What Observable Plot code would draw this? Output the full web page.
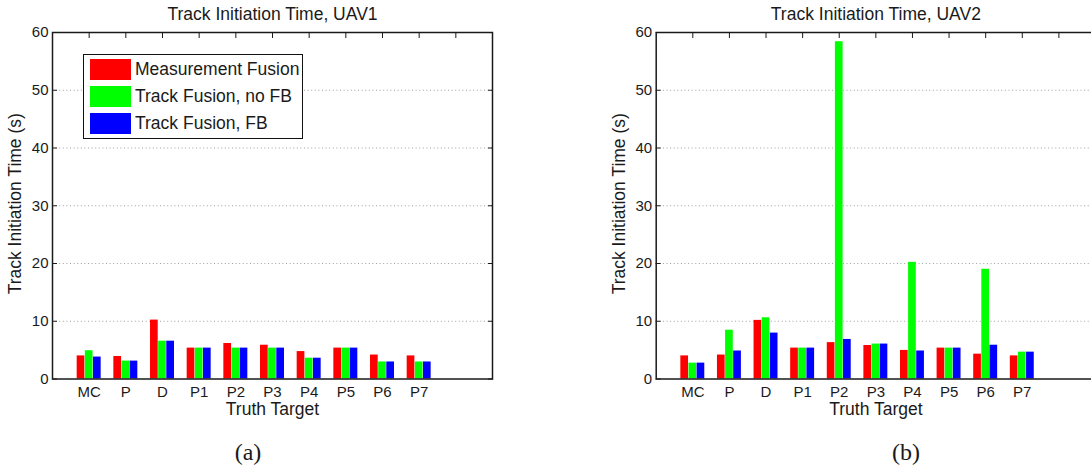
<!DOCTYPE html>
<html>
<head>
<meta charset="utf-8">
<script src="https://cdn.jsdelivr.net/npm/d3@7"></script>
<script src="https://cdn.jsdelivr.net/npm/@observablehq/plot@0.6"></script>
<style>
  html, body { margin: 0; padding: 0; background: #fff; overflow: hidden; }
  #page { position: relative; width: 1091px; height: 467px; overflow: hidden;
          font-family: "Liberation Sans", Arial, Helvetica, sans-serif; color: #1a1a1a; }
  .panel { position: absolute; top: 0; }
  .legend { position: absolute; left: 83px; top: 54px; width: 220px; height: 85px;
            border: 1.4px solid #111; background: #fff; box-sizing: border-box; }
  .legend .row { position: absolute; left: 6px; height: 21px; display: flex; align-items: center; }
  .legend .sw { width: 41px; height: 21px; margin-right: 4px; }
  .legend .name { font-size: 17.5px; line-height: 21px; white-space: nowrap; }
  .sub { position: absolute; top: 439px; font-family: "Liberation Serif", "DejaVu Serif", serif;
         font-size: 24px; line-height: 26px; transform: translateX(-50%); }
</style>
</head>
<body>
<div id="page"></div>
<script>
// Categories (truth targets) and the three fusion schemes
const categories = ["MC", "P", "D", "P1", "P2", "P3", "P4", "P5", "P6", "P7"];
const series = ["Measurement Fusion", "Track Fusion, no FB", "Track Fusion, FB"];
const seriesColors = ["#ff0000", "#00ff00", "#0000ff"];
const yTicks = [0, 10, 20, 30, 40, 50, 60];

// Track initiation time (s), UAV1
const uav1MeasFusion = [4.0, 3.9, 10.2, 5.35, 6.15, 5.85, 4.75, 5.35, 4.15, 4.0];
const uav1TrackNoFb  = [4.9, 3.1, 6.55, 5.35, 5.35, 5.35, 3.6, 5.35, 2.95, 2.95];
const uav1TrackFb    = [3.8, 3.1, 6.55, 5.35, 5.35, 5.35, 3.6, 5.35, 2.95, 2.95];

// Track initiation time (s), UAV2
const uav2MeasFusion = [4.0, 4.15, 10.15, 5.35, 6.3, 5.8, 4.95, 5.35, 4.3, 4.0];
const uav2TrackNoFb  = [2.75, 8.45, 10.6, 5.35, 58.4, 6.05, 20.2, 5.35, 19.0, 4.65];
const uav2TrackFb    = [2.75, 4.85, 7.95, 5.35, 6.85, 6.05, 4.85, 5.35, 5.85, 4.65];

const yLabel = "Track Initiation Time (s)";
const xLabel = "Truth Target";

// grouped bar layout: bar offsets within a group (in category units)
const slotOffset = [-0.222, 0, 0.222];
const barHalf = 0.105;

function makeChart(title, columns, {width, marginLeft, marginRight}) {
  const rows = [];
  categories.forEach((c, i) =>
    series.forEach((s, j) => rows.push({category: c, index: i + 1, slot: j, series: s, value: columns[j][i]}))
  );
  return Plot.plot({
    width,
    height: 420,
    marginLeft,
    marginRight,
    marginTop: 32,
    marginBottom: 41.5,
    style: {fontFamily: "'Liberation Sans', Arial, Helvetica, sans-serif", color: "#1a1a1a", background: "transparent", overflow: "visible"},
    x: {type: "linear", domain: [0, 12]},
    y: {domain: [0, 60]},
    color: {domain: series, range: seriesColors},
    marks: [
      Plot.ruleY(yTicks.filter(t => t > 0 && t < 60), {stroke: "#a0a0a0", strokeDasharray: "1,2.6"}),
      Plot.rectY(rows, {
        x1: d => d.index + slotOffset[d.slot] - barHalf,
        x2: d => d.index + slotOffset[d.slot] + barHalf,
        y1: 0,
        y2: "value",
        fill: "series"
      }),
      Plot.frame({stroke: "#1a1a1a", strokeWidth: 1.5}),
      Plot.axisY({anchor: "left", ticks: yTicks, tickSize: -5, tickPadding: 9, fontSize: 15, label: null}),
      Plot.axisY({anchor: "right", ticks: yTicks, tickSize: -5, tickFormat: () => "", label: null}),
      Plot.axisX({anchor: "top", ticks: d3.range(1, 12), tickSize: -5, tickFormat: () => "", label: null}),
      Plot.axisX({anchor: "bottom", ticks: d3.range(1, 11), tickSize: 0, tickPadding: 7, fontSize: 15,
                  tickFormat: i => categories[i - 1], label: null}),
      Plot.text([title], {text: d => d, frameAnchor: "top", textAnchor: "middle", lineAnchor: "middle",
                          dy: -18.5, fontSize: 17.5}),
      Plot.text([xLabel], {text: d => d, frameAnchor: "bottom", textAnchor: "middle", lineAnchor: "middle",
                           dy: 30.5, fontSize: 17.5}),
      Plot.text([yLabel], {text: d => d, frameAnchor: "left", textAnchor: "middle", lineAnchor: "middle",
                           rotate: -90, dx: -37, dy: -2, fontSize: 17.5})
    ]
  });
}

const page = document.getElementById("page");

const left = makeChart("Track Initiation Time, UAV1", [uav1MeasFusion, uav1TrackNoFb, uav1TrackFb],
  {width: 545, marginLeft: 52, marginRight: 53});
left.classList.add("panel");
left.style.left = "0px";
page.appendChild(left);

const right = makeChart("Track Initiation Time, UAV2", [uav2MeasFusion, uav2TrackNoFb, uav2TrackFb],
  {width: 549, marginLeft: 109.7, marginRight: 0});
right.classList.add("panel");
right.style.left = "546px";
page.appendChild(right);

// boxed legend in the UAV1 panel
const legend = document.createElement("div");
legend.className = "legend";
series.forEach((s, j) => {
  const row = document.createElement("div");
  row.className = "row";
  row.style.top = (4 + 27 * j) + "px";
  const sw = document.createElement("div");
  sw.className = "sw";
  sw.style.background = seriesColors[j];
  const name = document.createElement("span");
  name.className = "name";
  name.textContent = s;
  row.appendChild(sw);
  row.appendChild(name);
  legend.appendChild(row);
});
page.appendChild(legend);

// sub-figure captions
[["(a)", 248], ["(b)", 906]].forEach(([t, cx]) => {
  const el = document.createElement("div");
  el.className = "sub";
  el.style.left = cx + "px";
  el.textContent = t;
  page.appendChild(el);
});
</script>
</body>
</html>
